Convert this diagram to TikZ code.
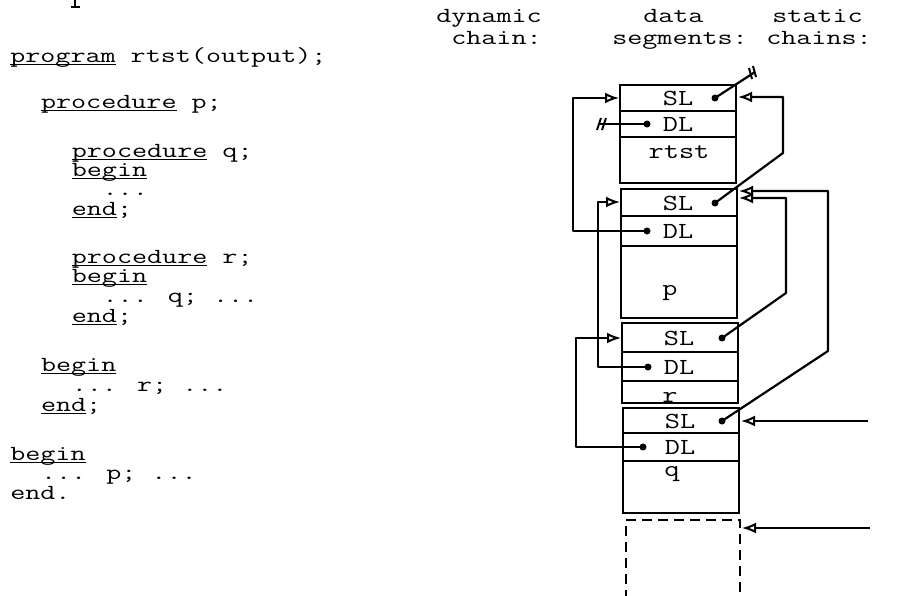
\documentclass[tikz,border=0pt]{standalone}
\usepackage{fontspec}
\usetikzlibrary{arrows.meta}
\newcommand\kw[1]{\setbox0\hbox{#1}\rlap{\rule[-2.5pt]{\wd0}{0.9pt}}#1}
\begin{document}
\begin{tikzpicture}[x=1pt,y=-1pt,
  code/.style={font=\ttfamily\fontsize{21.5}{21.5}\selectfont, anchor=base west, inner sep=0pt, xscale=1.36, transform shape},
  boxtxt/.style={font=\ttfamily\fontsize{23}{23}\selectfont, inner sep=0pt, xscale=1.28, transform shape},
  seg/.style={line width=2.6pt},
  con/.style={line width=2.2pt, line join=round},
  arr/.style={con, -{Latex[open, length=14pt, width=11pt, line width=2pt]}},
  dot/.style={circle, fill=black, inner sep=0pt, minimum size=7pt},
  nilm/.style={line width=2pt}
]
\useasboundingbox (0,0) rectangle (903,595);

% fragment of a letter cut off at top
\draw[line width=1.5pt] (75,0) -- (75,7) (71,7) -- (80,7);

% ---------- program text ----------
\node[code] (l1)  at (10,62)   {\kw{program} rtst(output);};
\node[code] (l2)  at (40.8,108) {\kw{procedure} p;};
\node[code] (l3)  at (71.6,157) {\kw{procedure} q;};
\node[code] (l4)  at (71.6,176.5) {\kw{begin}};
\node[code] (l5)  at (102.4,195) {...};
\node[code] (l6)  at (71.6,215) {\kw{end};};
\node[code] (l7)  at (71.6,263) {\kw{procedure} r;};
\node[code] (l8)  at (71.6,282.5) {\kw{begin}};
\node[code] (l9)  at (102.4,302) {... q; ...};
\node[code] (l10) at (71.6,322) {\kw{end};};
\node[code] (l11) at (40.8,371) {\kw{begin}};
\node[code] (l12) at (71.6,391) {... r; ...};
\node[code] (l13) at (40.8,411) {\kw{end};};
\node[code] (l14) at (10,460)  {\kw{begin}};
\node[code] (l15) at (40.8,479) {... p; ...};
\node[code] (l16) at (10,499)  {end.};

% ---------- headers ----------
\node[code] (h1) at (436,22) {dynamic};
\node[code] (h2) at (451,44) {chain:};
\node[code] (h3) at (643,22) {data};
\node[code] (h4) at (612,44) {segments:};
\node[code] (h5) at (772,22) {static};
\node[code] (h6) at (766,44) {chains:};

% ---------- data segments ----------
% rtst
\draw[seg] (620,85) rectangle (736,183);
\draw[seg] (620,111) -- (736,111) (620,137) -- (736,137);
\node[boxtxt] (rtstSLt) at (678,98) {SL};
\node[boxtxt] (rtstDLt) at (678,124) {DL};
\node[boxtxt, anchor=base] (rtstN) at (679,158) {rtst};
% p
\draw[seg] (621,189) rectangle (737,318);
\draw[seg] (621,216) -- (737,216) (621,246) -- (737,246);
\node[boxtxt] (pSLt) at (678,203) {SL};
\node[boxtxt] (pDLt) at (678,231) {DL};
\node[boxtxt, anchor=base] (pN) at (670,295) {p};
% r
\draw[seg] (622,323) rectangle (738,403);
\draw[seg] (622,352) -- (738,352) (622,381) -- (738,381);
\node[boxtxt] (rSLt) at (679,338) {SL};
\node[boxtxt] (rDLt) at (679,367) {DL};
\node[boxtxt, anchor=base] (rN) at (670,402) {r};
% q
\draw[seg] (623,408) rectangle (739,513);
\draw[seg] (623,433) -- (739,433) (623,461) -- (739,461);
\node[boxtxt] (qSLt) at (680,421) {SL};
\node[boxtxt] (qDLt) at (680,447) {DL};
\node[boxtxt, anchor=base] (qN) at (672,476) {q};
% free (dashed) segment
\draw[seg, dash pattern=on 10pt off 6pt] (626,600) -- (626,520) -- (740,520) -- (740,600);

% ---------- pointer dots ----------
\node[dot] (rtstSL) at (715,98) {};
\node[dot] (rtstDL) at (647,124) {};
\node[dot] (pSL) at (715,203) {};
\node[dot] (pDL) at (647,231) {};
\node[dot] (rSL) at (722,338) {};
\node[dot] (rDL) at (648,367) {};
\node[dot] (qSL) at (722,421) {};
\node[dot] (qDL) at (643,447) {};

% entry points on segment edges
\coordinate (rtstInL) at (619,98);
\coordinate (rtstInR) at (738,97);
\coordinate (pInL) at (620,202);
\coordinate (pInR1) at (739,191);
\coordinate (pInR2) at (739,198);
\coordinate (rInL) at (621,338);
\coordinate (qInR) at (741,421);
\coordinate (freeIn) at (742,528);
\coordinate (nilA) at (755,72);
\coordinate (nilB) at (598,124);
\coordinate (curS) at (868,421);
\coordinate (curT) at (870,528);

% nil pointers
\draw[con] (rtstSL.center) -- (nilA);
\draw[nilm] (749,68) -- (752,79) (753,66) -- (756,77);
\draw[con] (rtstDL.center) -- (nilB);
\draw[nilm] (597,130) -- (601,118) (602,130) -- (606,118);

% dynamic chain
\draw[arr] (pDL.center) -- (573,231) -- (573,98) -- (rtstInL);
\draw[arr] (rDL.center) -- (598,367) -- (598,202) -- (pInL);
\draw[arr] (qDL.center) -- (576,447) -- (576,338) -- (rInL);

% static chains
\draw[arr] (pSL.center) -- (783,153) -- (783,97) -- (rtstInR);
\draw[arr] (rSL.center) -- (786,293) -- (786,198) -- (pInR2);
\draw[arr] (qSL.center) -- (828,351) -- (828,191) -- (pInR1);

% current pointers
\draw[arr] (curS) -- (qInR);
\draw[arr] (curT) -- (freeIn);
\end{tikzpicture}
\end{document}
